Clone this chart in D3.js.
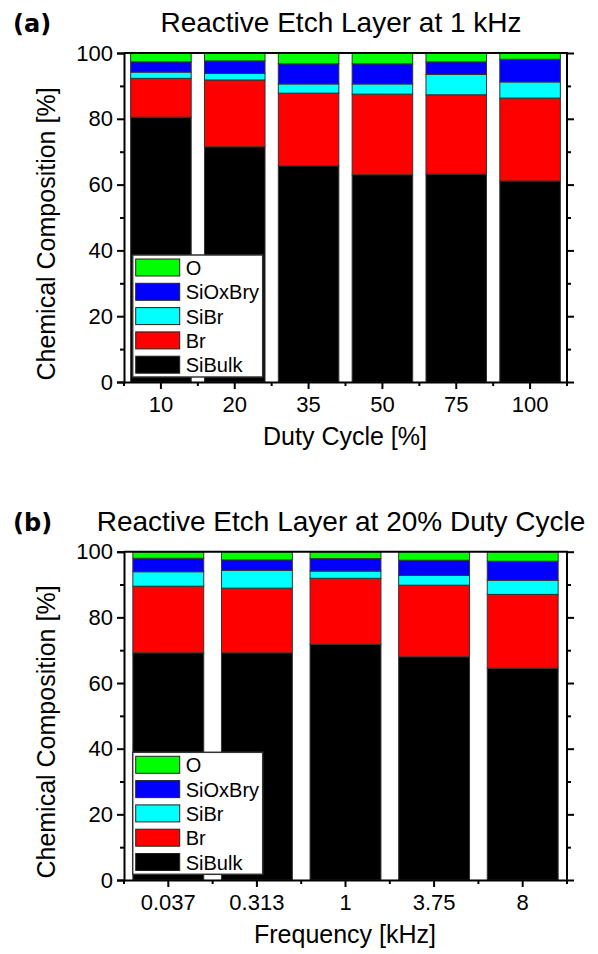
<!DOCTYPE html>
<html>
<head>
<meta charset="utf-8">
<script src="https://cdn.jsdelivr.net/npm/d3@7"></script>
<style>
	body { margin: 0; background: #fff; }
	svg text { font-family: 'Liberation Sans', Arial, sans-serif; fill: #000; }
</style>
</head>
<body>
<div id="chart"></div>
<script>
// stacking order bottom -> top
let layers		= ['SiBulk', 'Br', 'SiBr', 'SiOxBry', 'O'];
let colors		= ['#000000', '#ff0000', '#00ffff', '#0000ff', '#00ff00'];

let dutyCycles	= ['10', '20', '35', '50', '75', '100'];
let dutySiBulk	= [80.5, 71.5, 65.7, 63.0, 63.2, 61.1];
let dutyBr		= [11.8, 20.3, 22.1, 24.5, 24.1, 25.2];
let dutySiBr	= [1.9, 2.0, 2.8, 3.1, 6.2, 4.9];
let dutySiOxBry	= [3.1, 3.8, 6.1, 6.1, 3.8, 6.9];
let dutyO		= [2.7, 2.4, 3.3, 3.3, 2.7, 1.9];

let freqs		= ['0.037', '0.313', '1', '3.75', '8'];
let freqSiBulk	= [69.2, 69.2, 71.8, 68.0, 64.5];
let freqBr		= [20.3, 19.7, 20.1, 21.8, 22.5];
let freqSiBr	= [4.4, 5.4, 2.2, 3.0, 4.3];
let freqSiOxBry	= [4.1, 3.2, 3.8, 4.6, 5.8];
let freqO		= [2.0, 2.5, 2.1, 2.6, 2.9];

let yTicks		= [0, 20, 40, 60, 80, 100];
let yMinor		= [10, 30, 50, 70, 90];

let svg = d3.select('#chart').append('svg')
	.attr('width', 598)
	.attr('height', 954);

function toRows(cats, series) {
	return cats.map((c, i) => {
		let row = { cat: c };
		layers.forEach((l, j) => row[l] = series[j][i]);
		return row;
	});
}

function drawPanel(opt) {
	let x = d3.scaleBand()
		.domain(opt.cats)
		.range([opt.left, opt.right])
		.paddingInner(opt.pad)
		.paddingOuter(opt.pad / 2);

	let y = d3.scaleLinear()
		.domain([0, 100])
		.range([opt.bottom, opt.top]);

	let rows	= toRows(opt.cats, opt.series);
	let stacked	= d3.stack().keys(layers)(rows);

	let g = svg.append('g');

	g.selectAll('g.layer').data(stacked).enter().append('g')
		.attr('class', 'layer')
		.attr('fill', (d, i) => colors[i])
		.selectAll('rect').data(d => d).enter().append('rect')
			.attr('x', d => x(d.data.cat))
			.attr('width', x.bandwidth())
			.attr('y', d => y(d[1]))
			.attr('height', d => y(d[0]) - y(d[1]))
			.attr('stroke', '#333')
			.attr('stroke-width', 1);

	// frame: top + right
	g.append('path')
		.attr('d', 'M' + opt.left + ',' + opt.top + 'H' + opt.right + 'V' + opt.bottom)
		.attr('fill', 'none')
		.attr('stroke', '#000')
		.attr('stroke-width', 2);

	// left axis
	g.append('g')
		.attr('transform', 'translate(' + opt.left + ',0)')
		.call(d3.axisLeft(y).tickValues(yTicks).tickSize(7).tickPadding(4));
	g.append('g')
		.attr('transform', 'translate(' + opt.left + ',0)')
		.call(d3.axisLeft(y).tickValues(yMinor).tickSize(4).tickFormat(''))
		.select('.domain').remove();

	// right axis, ticks only
	g.append('g')
		.attr('transform', 'translate(' + opt.right + ',0)')
		.call(d3.axisRight(y).tickValues(yTicks).tickSize(7).tickFormat(''))
		.select('.domain').remove();
	g.append('g')
		.attr('transform', 'translate(' + opt.right + ',0)')
		.call(d3.axisRight(y).tickValues(yMinor).tickSize(4).tickFormat(''))
		.select('.domain').remove();

	// bottom axis
	g.append('g')
		.attr('transform', 'translate(0,' + opt.bottom + ')')
		.call(d3.axisBottom(x).tickSize(7).tickPadding(7).tickSizeOuter(0));

	// minor ticks at category boundaries
	let step	= x.step();
	let bounds	= opt.cats.map(c => x(c) + x.bandwidth() / 2 - step / 2).concat([opt.right]);
	g.append('g').selectAll('line').data(bounds).enter().append('line')
		.attr('x1', d => d).attr('x2', d => d)
		.attr('y1', opt.bottom).attr('y2', opt.bottom + 4)
		.attr('stroke', '#000').attr('stroke-width', 2);

	g.selectAll('.domain').attr('stroke-width', 2);
	g.selectAll('.tick line').attr('stroke-width', 2);
	g.selectAll('.tick text').style('font-size', '22px').attr('fill', '#000');

	// legend
	let lg = g.append('g').attr('transform', 'translate(' + opt.legX + ',' + opt.legY + ')');
	lg.append('rect')
		.attr('width', 130).attr('height', 122)
		.attr('fill', '#fff').attr('stroke', '#333').attr('stroke-width', 1.5);

	let legItems	= layers.slice().reverse();
	let legColors	= colors.slice().reverse();
	let item = lg.selectAll('g.item').data(legItems).enter().append('g')
		.attr('class', 'item')
		.attr('transform', (d, i) => 'translate(3,' + (4 + i * 24.3) + ')');
	item.append('rect')
		.attr('width', 44).attr('height', 17)
		.attr('fill', (d, i) => legColors[i])
		.attr('stroke', '#222').attr('stroke-width', 1);
	item.append('text')
		.attr('x', 50).attr('y', 16)
		.style('font-size', '20px')
		.text(d => d);

	// titles and labels
	svg.append('text')
		.attr('x', 341).attr('y', opt.top - 21)
		.attr('text-anchor', 'middle')
		.style('font-size', '28px')
		.text(opt.title);

	svg.append('text')
		.attr('x', 13).attr('y', opt.top - 21)
		.style('font-family', "'DejaVu Sans', sans-serif")
		.style('font-weight', 'bold')
		.style('font-size', '24px')
		.text(opt.panel);

	svg.append('text')
		.attr('x', 345).attr('y', opt.bottom + 63)
		.attr('text-anchor', 'middle')
		.style('font-size', '25px')
		.text(opt.xLabel);

	svg.append('text')
		.attr('transform', 'translate(55,' + (opt.bottom - 148) + ')rotate(-90)')
		.attr('text-anchor', 'middle')
		.style('font-size', '25px')
		.text('Chemical Composition [%]');
}

drawPanel({
	cats: dutyCycles,
	series: [dutySiBulk, dutyBr, dutySiBr, dutySiOxBry, dutyO],
	left: 124, right: 567, top: 53, bottom: 382,
	pad: 0.18,
	legX: 132.7, legY: 255,
	title: 'Reactive Etch Layer at 1 kHz',
	panel: '(a)',
	xLabel: 'Duty Cycle [%]'
});

drawPanel({
	cats: freqs,
	series: [freqSiBulk, freqBr, freqSiBr, freqSiOxBry, freqO],
	left: 124, right: 567, top: 551.7, bottom: 880,
	pad: 0.2,
	legX: 132.7, legY: 752.3,
	title: 'Reactive Etch Layer at 20% Duty Cycle',
	panel: '(b)',
	xLabel: 'Frequency [kHz]'
});
</script>
</body>
</html>
